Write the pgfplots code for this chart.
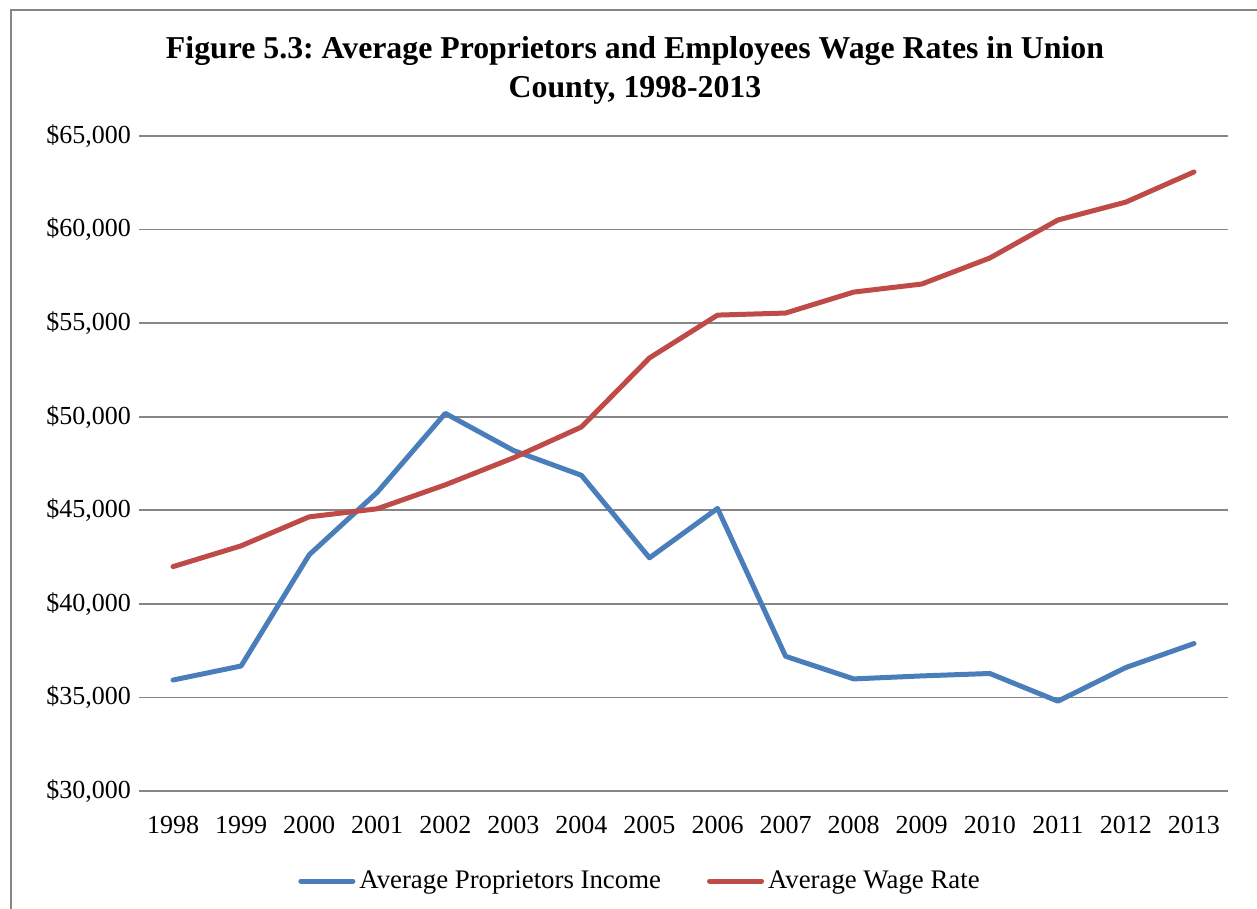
\documentclass[border=0pt]{standalone}
\usepackage{pgfplots}
\pgfplotsset{compat=1.18}
\usepackage{fontspec}
\setmainfont{Liberation Serif}
\definecolor{sblue}{HTML}{4A7EBB}
\definecolor{sred}{HTML}{BE4B48}
\definecolor{gridg}{HTML}{868686}
\frenchspacing
\begin{document}
\begin{tikzpicture}
\useasboundingbox (0pt,0pt) rectangle (628.5pt,-454.5pt);
\draw[gridg,line width=1pt] (5.5pt,-454.5pt) -- (5.5pt,-5pt) -- (628.5pt,-5pt);
\node[font=\bfseries\fontsize{15.9}{19.5}\selectfont,align=center] at (317.5pt,-35pt)
  {Figure 5.3: Average Proprietors and Employees Wage Rates in Union\\County, 1998-2013};
\begin{axis}[
  at={(69.5pt,-395.5pt)}, anchor=south west,
  scale only axis, width=544.5pt, height=327.5pt,
  xmin=-0.5, xmax=15.5, ymin=30000, ymax=65000,
  xtick={0,...,15},
  xticklabels={1998,1999,2000,2001,2002,2003,2004,2005,2006,2007,2008,2009,2010,2011,2012,2013},
  ytick={30000,35000,...,65000},
  scaled y ticks=false,
  yticklabel={\$\pgfmathprintnumber[assume math mode=true,1000 sep={,}]{\tick}},
  /pgf/number format/assume math mode=true,
  ticklabel style={font=\fontsize{13}{15}\selectfont},
  major tick length=0pt,
  axis line style={draw=none},
  ymajorgrids, grid style={gridg,line width=0.8pt},
  yticklabel style={xshift=-0.5pt},
  xticklabel style={yshift=-9pt},
  legend style={at={(0.461,-0.1375)},anchor=center,draw=none,fill=none,
    legend columns=2,font=\fontsize{13.4}{15}\selectfont,
    /tikz/every even column/.append style={column sep=21pt}},
  legend image code/.code={\draw[#1,line width=2.5pt,line cap=round] (0pt,0pt) -- (26pt,0pt);},
  clip=false,
]
\addplot[sblue,line width=2.5pt,line join=round,line cap=round] coordinates {
(0,35930) (1,36680) (2,42620) (3,45960) (4,50180) (5,48200) (6,46870) (7,42460)
(8,45100) (9,37200) (10,35990) (11,36150) (12,36280) (13,34800) (14,36600) (15,37880)};
\addlegendentry{Average Proprietors Income}
\addplot[sred,line width=2.5pt,line join=round,line cap=round] coordinates {
(0,41990) (1,43100) (2,44650) (3,45080) (4,46360) (5,47800) (6,49450) (7,53140)
(8,55430) (9,55540) (10,56660) (11,57090) (12,58480) (13,60510) (14,61470) (15,63080)};
\addlegendentry{Average Wage Rate}
\end{axis}
\end{tikzpicture}
\end{document}
